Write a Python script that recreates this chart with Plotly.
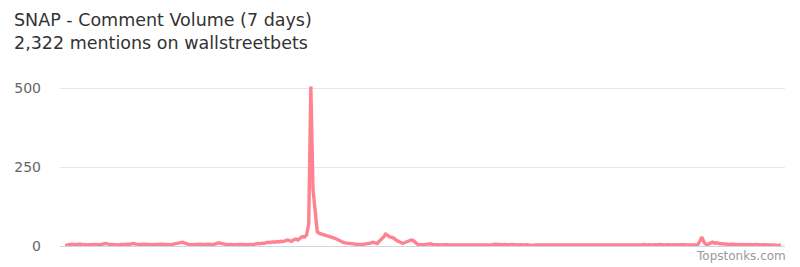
import plotly.graph_objects as go

title_text = "SNAP - Comment Volume (7 days)"
subtitle_text = "2,322 mentions on wallstreetbets"
credit_text = "Topstonks.com"
y_ticks = [0, 250, 500]

# half-hourly comment counts over 7 days
volume = [
    2, 4, 5, 6, 5, 4, 5, 6, 4, 5, 3, 4, 5, 6, 5, 4, 4, 5, 7, 8,
    6, 5, 4, 5, 4, 3, 5, 4, 5, 6, 5, 7, 8, 6, 5, 4, 5, 6, 5, 4,
    3, 4, 5, 4, 5, 6, 5, 4, 5, 4, 5, 6, 7, 8, 10, 12, 9, 6, 5, 4,
    5, 4, 5, 6, 5, 4, 5, 6, 5, 4, 6, 8, 10, 8, 6, 5, 4, 5, 4, 5,
    4, 5, 6, 5, 4, 5, 6, 5, 4, 6, 8, 7, 9, 8, 10, 12, 11, 13, 12, 14,
    13, 15, 14, 16, 19, 17, 15, 20, 22, 19, 25, 30, 28, 35, 70,
    505, 180, 112, 45,
    40, 38, 36, 35, 33, 30, 28, 25, 22, 18, 15, 12,
    10, 9, 7, 6, 5, 6, 5, 4, 5, 6, 5, 7, 9, 12, 10, 8,
    15, 20, 28, 38, 33, 29, 27, 24, 18, 14, 10, 8, 11, 14, 16, 19, 17, 9, 5, 4,
    3, 4, 5, 6, 7, 5, 4, 3, 4, 3, 4, 5, 4, 3, 3, 4, 3, 4, 5, 4,
    3, 3, 4, 3, 4, 3, 3, 4, 5, 4, 3, 4, 3, 4, 6, 5, 4, 3, 4, 5,
    4, 3, 5, 4, 3, 3, 4, 3, 3, 4, 3, 3, 2, 3, 3, 4, 3, 3, 4, 3,
    3, 2, 3, 3, 4, 3, 3, 2, 3, 3, 3, 4, 3, 3, 2, 3, 3, 3, 3, 2,
    3, 3, 4, 3, 3, 3, 2, 3, 3, 3, 4, 3, 3, 3, 4, 3, 3, 4, 3, 3,
    4, 3, 3, 4, 5, 3, 4, 3, 3, 4, 3, 5, 4, 3, 3, 4, 3, 3, 4, 3,
    3, 4, 5, 4, 3, 3, 4, 3, 4, 3,
    15, 28, 12, 5, 6, 9, 12, 9, 10, 8, 7, 6, 7, 6, 5, 6, 5, 5, 4, 5,
    4, 5, 4, 5, 4, 4, 5, 4, 4, 3, 4, 3, 4, 3, 3, 2, 3, 2, 3,
]
hours = [i * 0.5 for i in range(len(volume))]

step = 0.5
fig = go.Figure()
fig.add_trace(go.Scatter(
    x=hours, y=volume, mode="lines",
    line=dict(color="#ff8290", width=3.4, shape="linear"),
    hoverinfo="skip",
))

L, R, T, B = 60, 15, 80, 21
fig.update_layout(
    width=800, height=267,
    margin=dict(l=L, r=R, t=T, b=B, pad=0),
    paper_bgcolor="white", plot_bgcolor="white",
    showlegend=False,
    font=dict(family="DejaVu Sans, sans-serif", color="#666666"),
    xaxis=dict(
        range=[hours[0] - 2.4 * step, hours[-1] + 1.9 * step],
        showgrid=False, zeroline=False, showticklabels=False, ticks="",
        showline=True, linecolor="#ccd6eb", linewidth=1,
    ),
    yaxis=dict(
        range=[0, 525.3],
        tickvals=y_ticks, ticktext=[str(v) for v in y_ticks],
        showgrid=True, gridcolor="#e6e6e6", gridwidth=1,
        zeroline=False, showline=False, ticks="",
        tickfont=dict(size=14, color="#666666"),
        ticklabelstandoff=18,
    ),
)

pw = 800 - L - R
ph = 267 - T - B

def px_x(x):
    return (x - L) / pw

def px_y(y):
    return (267 - B - y) / ph

fig.add_annotation(
    text=title_text + "<br>" + subtitle_text, xref="paper", yref="paper",
    x=px_x(12), y=px_y(32), xanchor="left", yanchor="middle", align="left",
    showarrow=False, font=dict(size=17.5, color="#333333"),
)
fig.add_annotation(
    text=credit_text, xref="paper", yref="paper",
    x=px_x(788), y=px_y(255.5), xanchor="right", yanchor="middle",
    showarrow=False, font=dict(size=12, color="#999999"),
)

fig.write_html("out.html")
